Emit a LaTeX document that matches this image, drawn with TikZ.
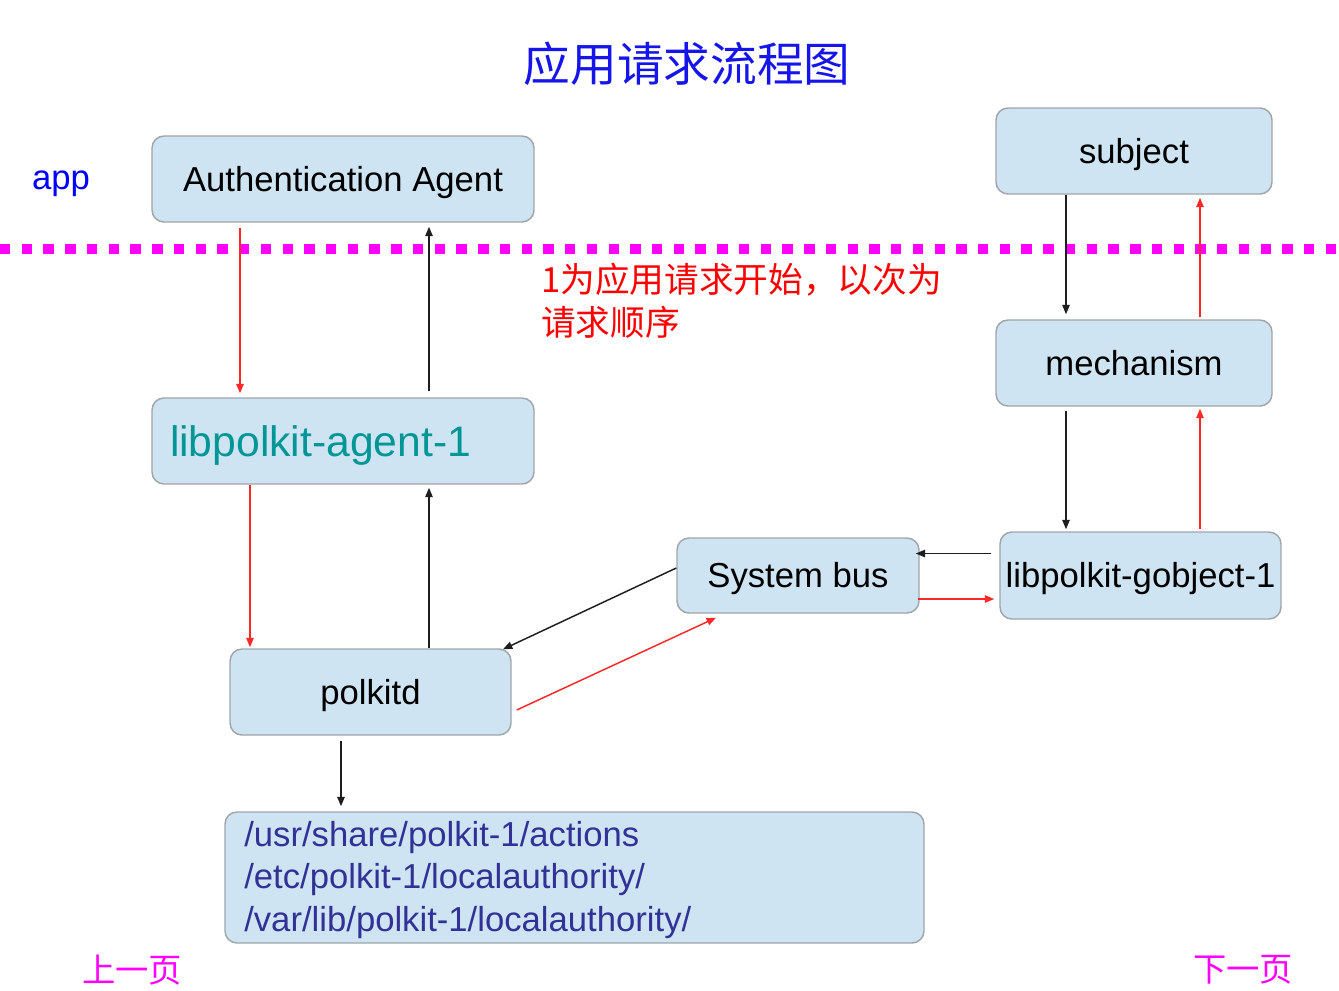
\documentclass[tikz,border=0pt]{standalone}
\usepackage{fontspec}
\setmainfont{Liberation Sans}
\newfontfamily\cjk{Noto Sans CJK SC}
\usetikzlibrary{arrows.meta,calc}
\definecolor{boxfill}{RGB}{207,228,242}
\definecolor{boxdraw}{RGB}{160,165,170}
\definecolor{arrred}{RGB}{255,40,40}
\definecolor{arrblk}{RGB}{30,30,30}
\definecolor{titleblue}{RGB}{20,20,235}
\definecolor{teal2}{RGB}{0,150,150}
\definecolor{pathblue}{RGB}{50,50,150}
\definecolor{mag}{RGB}{255,0,255}
\begin{document}
\begin{tikzpicture}[x=0.75pt,y=-0.75pt,
  box/.style={draw=boxdraw, fill=boxfill, line width=1.1pt, rounded corners=9pt, inner sep=0pt,
              font=\fontsize{26}{32}\selectfont, text height=18.6pt, text depth=0pt},
  redarr/.style={draw=arrred, line width=1.1pt, -{Triangle[length=7pt,width=5.5pt]}},
  blkarr/.style={draw=arrblk, line width=1.1pt, -{Triangle[length=7pt,width=5.5pt]}},
  navtext/.style={text=mag, font=\cjk\fontsize{25}{30}\selectfont, inner sep=0pt}]
\useasboundingbox (0,0) rectangle (1339,990);

% title
\node[text=titleblue, font=\cjk\fontsize{35}{42}\selectfont, inner sep=0pt] (title) at (687,64) {应用请求流程图};

% app label
\node[text=blue, font=\fontsize{26}{32}\selectfont, inner sep=0pt, text height=18.6pt, text depth=0pt] (app) at (61,177) {app};

% dotted separator
\coordinate (sepL) at (0,249);
\coordinate (sepR) at (1339,249);
\draw[mag, line width=7.5pt, dash pattern=on 7.8pt off 8.5pt] (sepL) -- (sepR);

% boxes
\node[box, minimum width=286.5pt, minimum height=64.5pt] (auth) at (343,179) {Authentication Agent};
\node[box, minimum width=286.5pt, minimum height=64.5pt, text=teal2, font=\fontsize{32}{38}\selectfont,
      text height=22.9pt, text width=259.5pt, align=left, inner xsep=13.5pt] (agent) at (343,441) {libpolkit-agent-1};
\node[box, minimum width=210.75pt, minimum height=64.5pt] (polkitd) at (370.5,692) {polkitd};
\node[box, minimum width=181.5pt, minimum height=56.25pt] (sysbus) at (798,575.5) {System bus};
\node[box, minimum width=207pt, minimum height=64.5pt] (subject) at (1134,151) {subject};
\node[box, minimum width=207pt, minimum height=64.5pt] (mech) at (1134,363) {mechanism};
\node[box, minimum width=210.75pt, minimum height=65.25pt] (gobj) at (1140.5,575.5) {libpolkit-gobject-1};
\node[box, minimum width=524.25pt, minimum height=98.25pt] (paths) at (574.5,877.5) {};
\node[text=pathblue, font=\fontsize{26}{32}\selectfont, align=left, anchor=west, inner sep=0pt] (pathtext) at (244,880)
      {/usr/share/polkit-1/actions\\/etc/polkit-1/localauthority/\\/var/lib/polkit-1/localauthority/};

% annotation
\node[text=red, font=\cjk\fontsize{26}{32.25}\selectfont, align=left, anchor=west, inner sep=0pt] (note) at (541,300.5)
  {1为应用请求开始，以次为\\请求顺序};

% navigation
\node[navtext] (prev) at (132,970) {上一页};
\node[navtext] (next) at (1243,970) {下一页};

% connectors
\draw[redarr] ($(auth.south)+(-103,5)$) -- ($(agent.north)+(-103,-4)$);
\draw[blkarr] ($(agent.north)+(86,-6)$) -- ($(auth.south)+(86,4)$);
\draw[redarr] ($(agent.south)+(-93,0)$) -- ($(polkitd.north)+(-120.5,-1)$);
\draw[blkarr] ($(polkitd.north)+(58.5,0)$) -- ($(agent.south)+(86,3)$);
\draw[redarr] ($(polkitd.east)+(5,18)$) -- ($(sysbus.south)+(-82,4)$);
\draw[blkarr] ($(sysbus.west)+(0,-7.5)$) -- ($(polkitd.north)+(132.5,1)$);
\draw[redarr] ($(sysbus.east)+(-2,23.5)$) -- ($(gobj.west)+(-5,23.5)$);
\draw[blkarr] ($(gobj.west)+(-8,-22)$) -- ($(sysbus.east)+(-4,-22)$);
\draw[blkarr] ($(subject.south)+(-68,0)$) -- ($(mech.north)+(-68,-5)$);
\draw[redarr] ($(mech.north)+(66,-2)$) -- ($(subject.south)+(66,3)$);
\draw[blkarr] ($(mech.south)+(-68,4)$) -- ($(gobj.north)+(-74.5,-2)$);
\draw[redarr] ($(gobj.north)+(59.5,-2)$) -- ($(mech.south)+(66,2)$);
\draw[blkarr] ($(polkitd.south)+(-29.5,5)$) -- ($(paths.north)+(-233.5,-5)$);
\end{tikzpicture}
\end{document}
